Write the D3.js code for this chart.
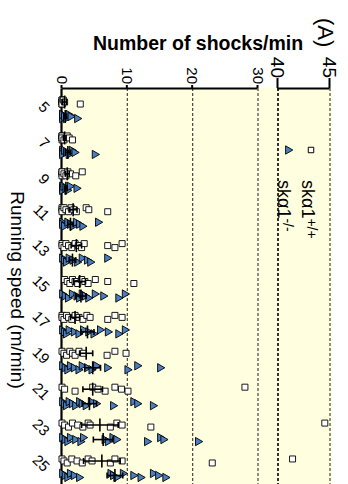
<!DOCTYPE html>
<html>
<head>
<meta charset="utf-8">
<script src="https://cdn.jsdelivr.net/npm/d3@7"></script>
<style>
  body { margin: 0; background: #fff; }
  svg { display: block; font-family: "Liberation Sans", Arial, sans-serif; }
</style>
</head>
<body>
<svg id="chart" width="348" height="484"></svg>
<script>
const speeds = [5, 7, 9, 11, 13, 15, 17, 19, 21, 23, 25];

// shocks/min per mouse, one list per running speed
const wtShocks = [
  [0, 0, 0, 0, 0, 0, 0.2, 0.4, 2.8],
  [0, 0, 0, 0, 0, 0.3, 0.8, 1.1, 1.6],
  [0, 0, 0, 0, 0.3, 0.6, 0.9, 1.3, 2.1, 3.1],
  [0, 0, 0, 0.3, 0.6, 1, 1.4, 1.8, 2.2, 3.7, 4.1, 7.0],
  [0, 0, 0.3, 0.6, 1, 1.5, 2, 2.5, 3, 3.4, 7.0, 8.1, 9.2],
  [0.4, 0.8, 1.2, 1.6, 2, 2.4, 3, 3.5, 4, 5.1, 7.0, 11.0],
  [0, 0, 0.3, 0.7, 1, 1.5, 2, 2.6, 3.2, 3.8, 4.3, 7.0, 8.1, 9.2],
  [0, 0.3, 0.7, 1.2, 1.6, 2, 2.6, 3.3, 6.9, 8.1, 9.8],
  [0, 0.4, 2.0, 4.7, 5.5, 6.6, 8.1, 9.1, 10.1, 28],
  [0, 0.4, 1, 1.6, 2.4, 3.2, 4, 4.3, 7.4, 8.4, 9.2, 13.6, 44.5],
  [0, 0.3, 0.8, 1.5, 2.3, 3.1, 4, 4.6, 7.4, 8.1, 9.2, 23, 41.4]
];
const koShocks = [
  [0, 0, 0, 0, 0.3, 0.6, 1, 1.3, 2.3],
  [0, 0, 0, 0.3, 0.6, 1, 1.5, 1.9, 5.0],
  [0, 0, 0, 0.2, 0.5, 0.8, 1.2, 2.2],
  [0, 0, 0.3, 0.8, 1.2, 1.6, 2.1, 2.6, 3.1, 5.5],
  [0, 0.3, 0.6, 1, 1.6, 2.3, 3, 3.8, 4.3, 6.9],
  [0, 0.4, 0.9, 1.5, 2.2, 2.6, 3, 3.5, 4, 5, 6.3, 8.6, 9.6],
  [0, 0.3, 0.6, 1, 1.8, 2.5, 3.2, 4, 4.8, 5.8, 7, 8.6, 9.6],
  [0, 0.4, 0.8, 1.2, 1.8, 2.5, 3, 3.8, 4.5, 5.2, 6.9, 10, 11.5, 15],
  [0, 0.3, 0.6, 1, 1.5, 2, 2.6, 3, 3.6, 4.4, 5.2, 7.8, 10.9, 11.5, 13.9],
  [0, 0.4, 0.8, 1.2, 2, 2.8, 3.2, 6.5, 7, 7.7, 8.3, 13, 15, 15.5, 20.8],
  [0, 0.4, 0.8, 1.2, 1.8, 2.6, 7.4, 7.8, 8.3, 9.3, 10.9, 12, 13.9, 14.7, 15.8]
];

// mean and error bar half-length as drawn
const wtMean = [0.4, 0.4, 0.8, 1.7, 2.2, 2.7, 2.0, 3.7, 4.7, 5.8, 6.1];
const wtErr = [0.3, 0.2, 0.3, 0.6, 0.8, 0.9, 0.7, 1.0, 1.5, 2.8, 2.8];
const koMean = [0.5, 0.9, 0.6, 1.3, 1.6, 2.9, 3.9, 4.7, 4.2, 6.3, 8.1];
const koErr = [0.2, 0.4, 0.2, 0.4, 0.5, 0.8, 1.0, 1.2, 1.1, 1.5, 1.2];

const lowTicks = [0, 10, 20, 30];
const highTicks = [40, 45];
const legendLabels = [["skα1", "+/+"], ["skα1", "-/-"]];

// the figure is drawn as a normal chart, then turned a quarter turn clockwise
const svg = d3.select("#chart");
const g = svg.append("g").attr("transform", "translate(348,0) rotate(90)");

const plotLeft = 88, plotRight = 495, plotTop = 16, plotBottom = 286;

const x = d3.scalePoint().domain(speeds).range([88, 490]).padding(0.6);
const yLow = d3.scaleLinear().domain([0, 30]).range([plotBottom, 90]);
const yHigh = d3.scaleLinear().domain([40, 45]).range([70, 18]);
const y = (v) => (v <= 35 ? yLow(v) : yHigh(v));

const blue = "#4a7ebf";
const wtShift = -7.5, koShift = 7;

g.append("rect")
  .attr("x", plotLeft)
  .attr("y", plotTop)
  .attr("width", plotRight - plotLeft)
  .attr("height", plotBottom - plotTop)
  .attr("fill", "#ffffe0");

// dashed grid
g.append("g")
  .selectAll("line")
  .data(lowTicks.slice(1).concat(highTicks))
  .enter()
  .append("line")
  .attr("x1", plotLeft)
  .attr("x2", plotRight)
  .attr("y1", (d) => y(d))
  .attr("y2", (d) => y(d))
  .attr("stroke", (d) => (d === 40 ? "#111" : "#444"))
  .attr("stroke-width", (d) => (d === 40 ? 1.7 : 1.2))
  .attr("stroke-dasharray", "3,2");

// axes
const axisLow = g.append("g")
  .attr("transform", `translate(${plotLeft},0)`)
  .call(d3.axisLeft(yLow).tickValues(lowTicks).tickFormat(d3.format("d"))
    .tickSize(3).tickSizeOuter(0).tickPadding(1));
const axisHigh = g.append("g")
  .attr("transform", `translate(${plotLeft},0)`)
  .call(d3.axisLeft(yHigh).tickValues(highTicks).tickFormat(d3.format("d"))
    .tickSize(10).tickSizeOuter(0).tickPadding(0));

[axisLow, axisHigh].forEach((a) => {
  a.select(".domain").attr("stroke-width", 2.2);
  a.selectAll(".tick line").attr("stroke-width", 2);
});
axisLow.selectAll("text").style("font-size", "15px").attr("fill", "#000");
axisHigh.selectAll("text").style("font-size", "19px").attr("fill", "#000");

const axisX = g.append("g")
  .attr("transform", `translate(0,${plotBottom})`)
  .call(d3.axisBottom(x).tickSize(0).tickSizeOuter(0));
axisX.select(".domain").attr("stroke-width", 2.2);
axisX.selectAll("text")
  .attr("y", 0)
  .attr("dy", "0.35em")
  .attr("transform", "translate(0,15) rotate(-45)")
  .attr("text-anchor", "end")
  .style("font-size", "15px")
  .attr("fill", "#000");

// points
const jitter = (i) => ((i % 3) - 1) * 2;

function drawGroup(values, shift, symbol, size, fill) {
  const flat = [];
  values.forEach((list, k) => {
    list.forEach((v, i) => flat.push({ speed: speeds[k], v, i }));
  });
  g.append("g")
    .selectAll("path")
    .data(flat)
    .enter()
    .append("path")
    .attr("d", d3.symbol().type(symbol).size(size))
    .attr("transform", (d) => `translate(${x(d.speed) + shift + jitter(d.i)},${y(d.v)})`)
    .attr("fill", fill)
    .attr("stroke", "#000")
    .attr("stroke-width", 0.9);
}

function drawErrors(means, errs, shift) {
  const eg = g.append("g").attr("stroke", "#000").attr("stroke-width", 1.6);
  speeds.forEach((s, k) => {
    const cx = x(s) + shift;
    const lo = y(means[k] - errs[k]);
    const hi = y(means[k] + errs[k]);
    eg.append("line").attr("x1", cx).attr("x2", cx).attr("y1", lo).attr("y2", hi);
    eg.append("line").attr("x1", cx - 3).attr("x2", cx + 3).attr("y1", lo).attr("y2", lo);
    eg.append("line").attr("x1", cx - 3).attr("x2", cx + 3).attr("y1", hi).attr("y2", hi);
    eg.append("line").attr("x1", cx - 6.5).attr("x2", cx + 6.5)
      .attr("y1", y(means[k])).attr("y2", y(means[k]));
  });
}

drawGroup(wtShocks, wtShift, d3.symbolSquare, 36, "#fff");
drawGroup(koShocks, koShift, d3.symbolTriangle, 30, blue);
drawErrors(wtMean, wtErr, wtShift);
drawErrors(koMean, koErr, koShift);

// legend
const legend = g.append("g");
legend.append("path")
  .attr("d", d3.symbol().type(d3.symbolSquare).size(30))
  .attr("transform", "translate(150,37)")
  .attr("fill", "#fff").attr("stroke", "#000");
legend.append("path")
  .attr("d", d3.symbol().type(d3.symbolTriangle).size(30))
  .attr("transform", "translate(150,60)")
  .attr("fill", blue).attr("stroke", "#000").attr("stroke-width", 0.9);
legendLabels.forEach((lab, i) => {
  const t = legend.append("text")
    .attr("x", 180)
    .attr("y", 46 + i * 24)
    .style("font-size", "18px");
  t.append("tspan").text(lab[0]);
  t.append("tspan").attr("dy", -5).style("font-size", "14px").text(lab[1]);
});

// titles
g.append("text")
  .attr("transform", "translate(50,150) rotate(-90)")
  .attr("text-anchor", "middle")
  .style("font-size", "19.5px")
  .style("font-weight", "bold")
  .text("Number of shocks/min");

g.append("text")
  .attr("x", 290)
  .attr("y", 337)
  .attr("text-anchor", "middle")
  .style("font-size", "19px")
  .text("Running speed (m/min)");

g.append("text")
  .attr("x", 18)
  .attr("y", 30)
  .style("font-size", "22px")
  .text("(A)");
</script>
</body>
</html>
